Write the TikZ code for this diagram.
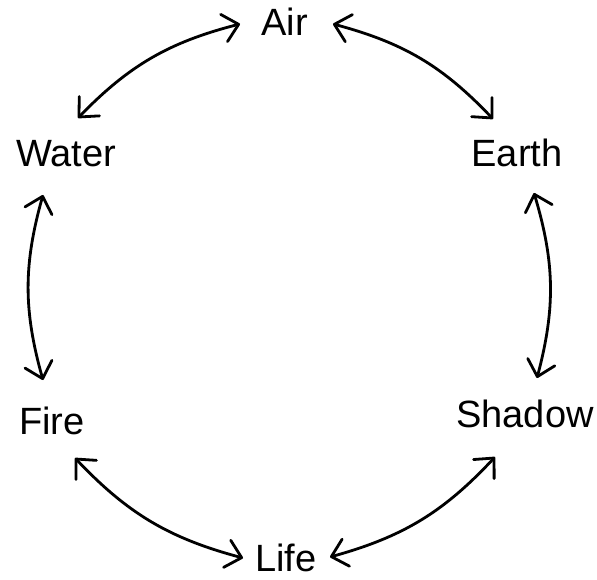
\documentclass[tikz,border=0pt]{standalone}
\usepackage{fontspec}
\setmainfont{Liberation Sans}
\usetikzlibrary{arrows.meta,bending}
\begin{document}
\begin{tikzpicture}[x=1pt,y=1pt,
  lbl/.style={anchor=base,inner sep=0pt,font=\fontsize{38}{45}\selectfont},
  cyc/.style={line width=2.8pt,{Straight Barb[length=15pt,width=28pt,round]}-{Straight Barb[length=15pt,width=28pt,round]}}]
\useasboundingbox (0,0) rectangle (597,579);
\node[lbl] (air)    at (284.5,543) {Air};
\node[lbl] (water)  at (66,412)    {Water};
\node[lbl] (earth)  at (517,412)   {Earth};
\node[lbl] (fire)   at (52,145)    {Fire};
\node[lbl] (shadow) at (525,152)   {Shadow};
\node[lbl] (life)   at (286,7.5)   {Life};
\draw[cyc] ([shift={(12,49)}]water.base) to[bend left=16] ([shift={(-44.5,12)}]air.base);
\draw[cyc] ([shift={(48.5,12)}]air.base) to[bend left=16] ([shift={(-24,48)}]earth.base);
\draw[cyc] ([shift={(17,-26)}]earth.base) to[bend left=16] ([shift={(12,49)}]shadow.base);
\draw[cyc] ([shift={(-30,-30)}]shadow.base) to[bend left=16] ([shift={(44,14.5)}]life.base);
\draw[cyc] ([shift={(-43,13.5)}]life.base) to[bend left=16] ([shift={(23,-24)}]fire.base);
\draw[cyc] ([shift={(-9,54)}]fire.base) to[bend left=16] ([shift={(-23,-28)}]water.base);
\end{tikzpicture}
\end{document}
